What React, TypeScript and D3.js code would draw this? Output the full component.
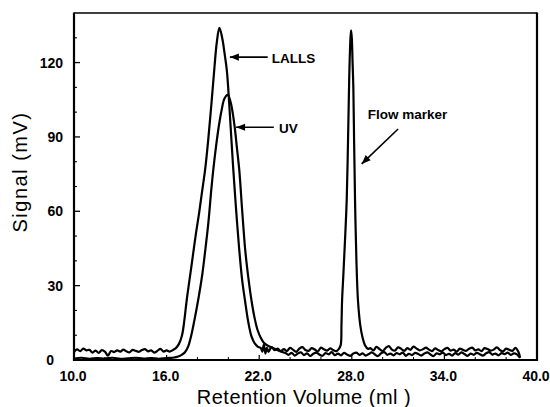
import React from 'react';
import * as d3 from 'd3';

const W = 550;
const H = 407;
const plotLeft = 74;
const plotRight = 537;
const plotTop = 13;
const plotBottom = 360;

const xDomain: [number, number] = [10, 40];
const yDomain: [number, number] = [0, 140];
const xTicks = [10, 16, 22, 28, 34, 40];
const xMinorTicks = [12, 14, 18, 20, 24, 26, 30, 32, 36, 38];
const yTicks = [0, 30, 60, 90, 120];
const yMinorTicks = [10, 20, 40, 50, 70, 80, 100, 110, 130];

// LALLS trace (retention volume ml, signal mV), includes flow marker peak
const lallsData: [number, number][] = [
  [10.0, 3.2], [10.2, 4.3], [10.4, 3.6], [10.6, 4.6], [10.8, 3.9], [11.0, 4.1], [11.2, 3.0], [11.4, 3.8],
  [11.6, 2.9], [11.8, 4.0], [12.0, 3.4], [12.2, 1.8], [12.4, 3.6], [12.6, 3.2], [12.8, 3.9], [13.0, 3.4],
  [13.2, 4.2], [13.4, 3.5], [13.6, 3.1], [13.8, 4.1], [14.0, 3.7], [14.2, 3.3], [14.4, 4.0], [14.6, 4.4],
  [14.8, 3.5], [15.0, 3.9], [15.2, 3.0], [15.4, 3.7], [15.6, 4.5], [15.8, 3.4], [16.0, 3.9], [16.2, 3.4],
  [16.4, 4.0], [16.6, 4.8], [16.8, 6.5], [17.0, 10], [17.15, 16], [17.3, 24], [17.5, 33], [17.7, 42],
  [17.9, 51], [18.1, 59], [18.3, 68], [18.5, 77], [18.7, 89], [18.9, 103], [19.1, 118], [19.25, 128],
  [19.42, 134], [19.6, 130], [19.75, 124], [19.9, 117], [20.0, 109], [20.15, 94], [20.32, 77], [20.5, 61],
  [20.7, 45], [20.9, 32], [21.08, 24], [21.3, 15], [21.5, 9.5], [21.7, 6.8], [21.9, 5.4], [22.1, 4.8],
  [22.2, 3.4], [22.3, 6.2], [22.4, 2.6], [22.5, 4.9], [22.6, 3.3], [22.8, 5.2], [23.0, 4.0], [23.2, 4.6],
  [23.4, 3.6], [23.6, 4.4], [23.8, 3.6], [24.0, 4.9], [24.2, 4.1], [24.4, 3.3], [24.6, 4.6], [24.8, 5.2],
  [25.0, 4.0], [25.2, 3.7], [25.4, 4.8], [25.6, 4.2], [25.8, 3.5], [26.0, 5.0], [26.2, 4.3], [26.4, 3.8],
  [26.6, 4.7], [26.8, 4.0], [27.0, 3.6], [27.15, 4.4], [27.28, 6], [27.33, 14], [27.37, 24], [27.45, 34],
  [27.55, 47], [27.67, 64.5], [27.76, 90], [27.83, 113], [27.9, 128], [27.95, 133], [28.0, 130], [28.05, 120],
  [28.1, 110], [28.15, 88], [28.21, 64.5], [28.3, 40], [28.4, 24], [28.55, 14], [28.7, 9], [28.85, 6],
  [29.05, 4.5], [29.2, 4.8], [29.4, 3.9], [29.6, 5.3], [29.8, 4.4], [30.0, 3.6], [30.2, 4.9], [30.4, 5.6],
  [30.6, 4.2], [30.8, 3.8], [31.0, 5.1], [31.2, 4.5], [31.4, 3.7], [31.6, 4.8], [31.8, 4.1], [32.0, 5.4],
  [32.2, 4.6], [32.4, 3.9], [32.6, 4.3], [32.8, 5.0], [33.0, 4.2], [33.2, 3.6], [33.4, 4.7], [33.6, 4.0],
  [33.8, 3.5], [34.0, 4.4], [34.2, 4.9], [34.4, 3.8], [34.6, 4.2], [34.8, 3.4], [35.0, 4.6], [35.2, 4.1],
  [35.4, 3.7], [35.6, 4.5], [35.8, 5.0], [36.0, 3.9], [36.2, 4.3], [36.4, 3.6], [36.6, 4.8], [36.8, 4.4],
  [37.0, 3.8], [37.2, 4.2], [37.4, 5.1], [37.6, 4.0], [37.8, 3.5], [38.0, 4.6], [38.2, 4.1], [38.4, 3.7],
  [38.6, 4.9], [38.8, 3.2], [38.9, 1.0],
];

// UV trace
const uvData: [number, number][] = [
  [10.0, 0.6], [10.5, 0.9], [11.0, 0.5], [11.5, 0.8], [12.0, 0.6], [12.5, 0.9], [13.0, 0.5], [13.5, 0.7],
  [14.0, 0.9], [14.5, 0.6], [15.0, 0.8], [15.5, 0.5], [16.0, 0.8], [16.4, 0.9], [16.8, 1.5], [17.0, 2.2],
  [17.2, 3.2], [17.4, 5.5], [17.6, 10], [17.8, 16], [18.04, 24], [18.3, 34], [18.5, 44], [18.7, 55],
  [18.9, 69], [19.03, 77], [19.2, 86], [19.4, 95], [19.57, 101], [19.75, 105.5], [19.96, 107], [20.15, 104],
  [20.3, 99], [20.43, 93], [20.55, 86], [20.71, 76.6], [20.9, 60], [21.1, 44], [21.3, 33], [21.5, 24],
  [21.7, 17], [21.9, 12], [22.1, 9], [22.3, 7], [22.5, 6], [22.7, 5.3], [22.9, 4.8], [23.1, 4.2],
  [23.3, 3.6], [23.5, 3.2], [23.7, 2.8], [23.9, 2.1], [24.1, 2.9], [24.3, 1.8], [24.5, 2.6], [24.7, 3.1],
  [24.9, 2.0], [25.1, 2.7], [25.3, 1.6], [25.5, 2.5], [25.7, 3.0], [25.9, 2.2], [26.1, 1.7], [26.3, 2.8],
  [26.5, 2.3], [26.7, 3.2], [26.9, 2.0], [27.1, 2.6], [27.3, 1.9], [27.5, 2.9], [27.7, 2.2], [27.9, 1.7],
  [28.1, 2.6], [28.3, 3.0], [28.5, 2.1], [28.7, 2.7], [28.9, 1.8], [29.1, 2.4], [29.3, 3.1], [29.5, 2.2],
  [29.7, 1.6], [29.9, 2.7], [30.1, 3.2], [30.3, 2.1], [30.5, 2.6], [30.7, 1.9], [30.9, 2.8], [31.1, 2.3],
  [31.3, 3.0], [31.5, 1.7], [31.7, 2.5], [31.9, 2.0], [32.1, 2.9], [32.3, 2.4], [32.5, 1.8], [32.7, 2.6],
  [32.9, 3.1], [33.1, 2.2], [33.3, 1.6], [33.5, 2.7], [33.7, 2.3], [33.9, 3.0], [34.1, 2.0], [34.3, 2.5],
  [34.5, 1.8], [34.7, 2.8], [34.9, 2.2], [35.1, 3.1], [35.3, 2.4], [35.5, 1.7], [35.7, 2.6], [35.9, 2.1],
  [36.1, 2.9], [36.3, 2.3], [36.5, 1.8], [36.7, 2.7], [36.9, 3.2], [37.1, 2.2], [37.3, 2.6], [37.5, 1.9],
  [37.7, 2.8], [37.9, 2.4], [38.1, 3.0], [38.3, 2.1], [38.5, 2.7], [38.7, 2.3], [38.9, 0.8],
];

// Annotations: label, text anchor point, arrow tail and arrow tip (data units)
const annotationLabels = ['LALLS', 'UV', 'Flow marker'];
const annotationText: [number, number][] = [[22.82, 119.9], [23.28, 91.6], [29.03, 97.2]];
const annotationTail: [number, number][] = [[22.55, 122.2], [22.95, 93.9], [31.0, 93.2]];
const annotationTip: [number, number][] = [[20.1, 122.2], [20.5, 93.9], [28.64, 79.1]];

const FONT = "'Liberation Sans', Arial, Helvetica, sans-serif";

export default function App() {
  const x = d3.scaleLinear().domain(xDomain).range([plotLeft, plotRight]);
  const y = d3.scaleLinear().domain(yDomain).range([plotBottom, plotTop]);
  const line = d3
    .line<[number, number]>()
    .x((d) => x(d[0]))
    .y((d) => y(d[1]))
    .curve(d3.curveCatmullRom.alpha(0.5));

  const arrowHead = (tail: [number, number], tip: [number, number]) => {
    const tx = x(tip[0]);
    const ty = y(tip[1]);
    const dx = tx - x(tail[0]);
    const dy = ty - y(tail[1]);
    const len = Math.sqrt(dx * dx + dy * dy);
    const ux = dx / len;
    const uy = dy / len;
    const hl = 9;
    const hw = 3.6;
    const bx = tx - ux * hl;
    const by = ty - uy * hl;
    return `${tx},${ty} ${bx - uy * hw},${by + ux * hw} ${bx + uy * hw},${by - ux * hw}`;
  };

  return (
    <svg
      width={W}
      height={H}
      style={{ position: 'absolute', left: 0, top: 0, background: '#fff' }}
      fontFamily={FONT}
    >
      <rect x={0} y={0} width={W} height={H} fill="#fff" />
      {/* traces */}
      <path d={line(uvData) || ''} fill="none" stroke="#000" strokeWidth={2.2} strokeLinejoin="round" />
      <path d={line(lallsData) || ''} fill="none" stroke="#000" strokeWidth={2.2} strokeLinejoin="round" />

      {/* frame */}
      <line x1={plotLeft} x2={plotRight} y1={plotTop} y2={plotTop} stroke="#000" strokeWidth={1.3} />
      <line x1={plotLeft} x2={plotLeft} y1={plotTop - 0.6} y2={plotBottom + 1} stroke="#000" strokeWidth={2.2} />
      <line x1={plotRight} x2={plotRight} y1={plotTop - 0.6} y2={plotBottom + 1} stroke="#000" strokeWidth={2.2} />
      <line x1={plotLeft} x2={plotRight} y1={plotBottom} y2={plotBottom} stroke="#000" strokeWidth={2} />

      {/* y ticks */}
      {yTicks.map((t) => (
        <g key={'yt' + t}>
          <line x1={plotLeft} x2={plotLeft + 6} y1={y(t)} y2={y(t)} stroke="#000" strokeWidth={1.3} />
          <text
            x={t === 0 ? plotLeft - 20 : plotLeft - 11}
            y={y(t)}
            dy="0.36em"
            textAnchor="end"
            fontSize={14}
            fontWeight="bold"
          >
            {t}
          </text>
        </g>
      ))}
      {yMinorTicks.map((t) => (
        <line key={'ym' + t} x1={plotLeft} x2={plotLeft + 3} y1={y(t)} y2={y(t)} stroke="#000" strokeWidth={1.1} />
      ))}

      {/* x ticks */}
      {xTicks.map((t) => (
        <g key={'xt' + t}>
          <line x1={x(t)} x2={x(t)} y1={plotBottom} y2={plotBottom - 5} stroke="#000" strokeWidth={1.2} />
          <text x={x(t) - 1} y={381} textAnchor="middle" fontSize={14} fontWeight="bold">
            {t.toFixed(1)}
          </text>
        </g>
      ))}
      {xMinorTicks.map((t) => (
        <line key={'xm' + t} x1={x(t)} x2={x(t)} y1={plotBottom} y2={plotBottom - 3} stroke="#000" strokeWidth={1} />
      ))}

      {/* axis titles */}
      <text x={304} y={404} textAnchor="middle" fontSize={20} letterSpacing={0.5}>
        Retention Volume (ml )
      </text>
      <text
        transform={`translate(27,172) rotate(-90)`}
        textAnchor="middle"
        fontSize={20}
        letterSpacing={1.5}
      >
        Signal (mV)
      </text>

      {/* annotations */}
      {annotationLabels.map((lab, i) => (
        <g key={lab}>
          <line
            x1={x(annotationTail[i][0])}
            y1={y(annotationTail[i][1])}
            x2={x(annotationTip[i][0])}
            y2={y(annotationTip[i][1])}
            stroke="#000"
            strokeWidth={1.6}
          />
          <polygon points={arrowHead(annotationTail[i], annotationTip[i])} fill="#000" />
          <text x={x(annotationText[i][0])} y={y(annotationText[i][1])} fontSize={13.5} fontWeight="bold">
            {lab}
          </text>
        </g>
      ))}
    </svg>
  );
}
